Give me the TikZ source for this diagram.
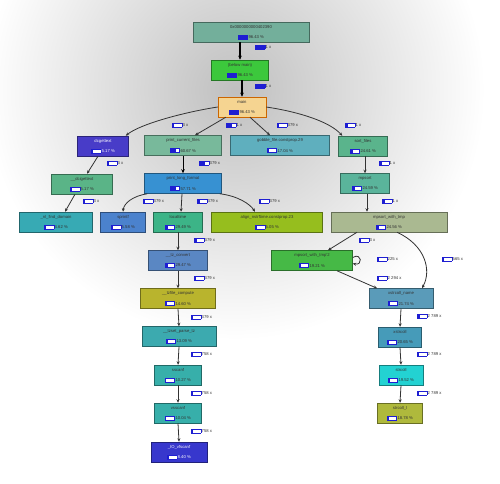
\documentclass[tikz,border=0pt]{standalone}
\usepackage{fontspec}
\setmainfont{Liberation Sans}
\usetikzlibrary{arrows.meta,calc}
\definecolor{barblue}{RGB}{30,30,210}
\definecolor{c0}{RGB}{115,175,155}
\definecolor{c1}{RGB}{60,200,60}
\definecolor{c2}{RGB}{245,212,145}
\definecolor{c3}{RGB}{72,60,200}
\definecolor{c4}{RGB}{120,185,155}
\definecolor{c5}{RGB}{95,175,190}
\definecolor{c6}{RGB}{90,180,140}
\definecolor{c7}{RGB}{90,180,135}
\definecolor{c8}{RGB}{55,145,210}
\definecolor{c9}{RGB}{90,180,155}
\definecolor{c10}{RGB}{55,170,180}
\definecolor{c11}{RGB}{75,130,205}
\definecolor{c12}{RGB}{60,180,135}
\definecolor{c13}{RGB}{150,190,30}
\definecolor{c14}{RGB}{170,185,145}
\definecolor{c15}{RGB}{90,135,195}
\definecolor{c16}{RGB}{70,185,70}
\definecolor{c17}{RGB}{185,180,45}
\definecolor{c18}{RGB}{90,155,185}
\definecolor{c19}{RGB}{60,170,175}
\definecolor{c20}{RGB}{70,155,185}
\definecolor{c21}{RGB}{35,210,210}
\definecolor{c22}{RGB}{175,185,60}
\definecolor{c23}{RGB}{55,175,170}
\definecolor{c24}{RGB}{55,55,205}
\newcommand{\pbar}[1]{{\setlength{\fboxsep}{0pt}\setlength{\fboxrule}{0.4pt}\fcolorbox{barblue}{white}{\textcolor{barblue}{\rule{#1pt}{3.2pt}}\hspace*{\dimexpr 9pt-#1pt\relax}}}}
\newcommand{\fnd}[8][]{\node[fnode=#5, minimum width=#4pt, #1] (#2) at (#3) {#6\\[5.5pt]\pbar{#7}\,#8};}
\newcommand{\elab}[4]{\node[elabel] (#1) at (#2) {\pbar{#3}\,#4};}
\begin{document}
\begin{tikzpicture}[x=1pt,y=-1pt,
  every node/.style={font=\fontsize{4.2}{5}\selectfont},
  fnode/.style={rectangle, fill=#1, draw=#1!60!black, line width=0.5pt, minimum height=20pt, inner sep=1pt, align=center, text=black!80},
  elabel/.style={anchor=west, inner sep=0pt, text=black!80},
  edge/.style={draw=black!80, line width=0.8pt, -{Stealth[length=3.5pt,width=3pt]}},
  bigedge/.style={draw=black, line width=1.4pt, -{Stealth[length=4pt,width=3.5pt]}}]
\useasboundingbox (0,0) rectangle (500,483);
\fill[white] (0,0) rectangle (500,483);
\begin{scope}
\clip (0,0) rectangle (500,483);
\shade[inner color=gray!50, outer color=white] (235,90) circle[radius=250pt];
\end{scope}
% nodes
\fnd{n0}{251,32}{116}{c0}{0x0000000000402390}{9}{96.43 \%}
\fnd{below}{240,70}{57}{c1}{(below main)}{9}{96.43 \%}
\fnd[draw=orange!80!black]{main}{242,107}{48}{c2}{main}{9}{96.43 \%}
\fnd[text=white]{dcg}{103,146}{51}{c3}{dcgettext}{0.5}{5.17 \%}
\fnd{pcf}{183,145.5}{77}{c4}{print\_current\_files}{5.5}{60.67 \%}
\fnd{gob}{280,145.5}{99}{c5}{gobble\_file.constprop.29}{1.5}{17.04 \%}
\fnd{srt}{363,146}{49}{c6}{sort\_files}{2.2}{24.61 \%}
\fnd{dci}{82,184}{61}{c7}{\_\_dcigettext}{0.5}{5.17 \%}
\fnd{plf}{183,183.5}{77}{c8}{print\_long\_format}{5.2}{57.71 \%}
\fnd{mps}{365,183.5}{49}{c9}{mpsort}{2.2}{24.59 \%}
\fnd{nlf}{56,222}{73}{c10}{\_nl\_find\_domain}{0.4}{4.62 \%}
\fnd{spr}{123,222}{45}{c11}{sprintf}{0.5}{5.58 \%}
\fnd{loc}{178,222}{49}{c12}{localtime}{2.6}{29.49 \%}
\fnd{aln}{267,222}{111}{c13}{align\_nstrftime.constprop.23}{0.5}{5.05 \%}
\fnd{mwt}{389,222}{116}{c14}{mpsort\_with\_tmp}{2.2}{24.56 \%}
\fnd{tzc}{178,260.5}{59}{c15}{\_\_tz\_convert}{2.6}{29.47 \%}
\fnd{mw2}{312,260.5}{81}{c16}{mpsort\_with\_tmp'2}{1.7}{19.21 \%}
\fnd{tzf}{178,298.5}{75}{c17}{\_\_tzfile\_compute}{1.3}{14.60 \%}
\fnd{xcn}{401,298.5}{64}{c18}{xstrcoll\_name}{2}{21.74 \%}
\fnd{tzs}{179,336.5}{74}{c19}{\_\_tzset\_parse\_tz}{1.2}{13.09 \%}
\fnd{xco}{400,337}{43}{c20}{xstrcoll}{1.9}{20.65 \%}
\fnd{sco}{401,375}{44}{c21}{strcoll}{1.8}{19.52 \%}
\fnd{scl}{400,413}{45}{c22}{strcoll\_l}{1.7}{18.78 \%}
\fnd{ssc}{178,375}{47}{c23}{sscanf}{0.9}{10.27 \%}
\fnd{vss}{178,413}{47}{c23}{vsscanf}{0.9}{10.04 \%}
\fnd[text=white]{iov}{179,452}{56}{c24}{\_IO\_vfscanf}{0.8}{8.40 \%}
% edge labels
\elab{l01}{255,47}{9}{1 x}
\elab{l12}{255,86}{9}{1 x}
\elab{lmd}{172,125}{1}{3 x}
\elab{lmp}{226,125}{5.5}{1 x}
\elab{lmg}{277,125}{1.5}{379 x}
\elab{lms}{345,125}{2.2}{1 x}
\elab{ldd}{107,163}{0.5}{3 x}
\elab{lpp}{199,163}{5}{379 x}
\elab{lsm}{379,163}{2.2}{1 x}
\elab{ldn}{83,201}{0.4}{3 x}
\elab{lps}{143,201}{0.5}{379 x}
\elab{lpl}{197,201}{2.5}{379 x}
\elab{lpa}{259,201}{0.5}{379 x}
\elab{lmm}{382,201}{2.2}{1 x}
\elab{llt}{194,240}{2.5}{379 x}
\elab{ltt}{194,278}{1.3}{379 x}
\elab{lts}{191,317}{1.2}{379 x}
\elab{lss}{191,354}{0.9}{758 x}
\elab{lsv}{191,393}{0.9}{758 x}
\elab{lvi}{191,431}{0.8}{758 x}
\elab{lm2}{359,240}{1.7}{3 x}
\elab{llp}{377,259}{1.5}{225 x}
\elab{lmx}{442,259}{0.5}{565 x}
\elab{l2x}{377,278}{1.5}{2 294 x}
\elab{lxx}{417,316}{1.9}{2 789 x}
\elab{lxs}{417,354}{1.8}{2 789 x}
\elab{lsl}{417,393}{1.7}{2 789 x}
% edges
\draw[bigedge] (below.north |- n0.south) -- (below.north);
\draw[bigedge] (main.north |- below.south) -- (main.north);
\draw[edge] (main.west) .. controls (185,112) and (140,124) .. ($(dcg.north east)+(-3,0)$);
\draw[edge] ($(main.south west)+(8,0)$) -- ($(pcf.north)+(12,0)$);
\draw[edge] ($(main.south)+(8,0)$) -- ($(gob.north)+(-10,0)$);
\draw[edge] (main.east) .. controls (300,112) and (330,122) .. ($(srt.north west)+(4,0)$);
\draw[edge] ($(dcg.south)+(-5,0)$) -- ($(dci.north)+(5,0)$);
\draw[bigedge, line width=1pt] (pcf.south) -- (plf.north);
\draw[edge] ($(srt.south)+(2,0)$) -- (mps.north);
\draw[edge] ($(dci.south)+(-7,0)$) -- ($(nlf.north)+(9,0)$);
\draw[edge] ($(plf.south west)+(3,0)$) .. controls (133,196) and (124,203) .. (spr.north);
\draw[edge] ($(plf.south)+(-1,0)$) -- ($(loc.north)+(3,0)$);
\draw[edge] ($(plf.south east)+(-2,0)$) .. controls (238,196) and (250,204) .. ($(aln.north)+(-12,0)$);
\draw[edge] ($(mps.south)+(2,0)$) -- ($(mwt.north)+(-22,0)$);
\draw[edge] (loc.south) -- (tzc.north);
\draw[edge] (tzc.south) -- (tzf.north);
\draw[edge] (tzf.south) -- (tzs.north);
\draw[edge] (tzs.south) -- (ssc.north);
\draw[edge] (ssc.south) -- (vss.north);
\draw[edge] (vss.south) -- (iov.north);
\draw[edge] ($(mwt.south)+(-32,0)$) -- ($(mw2.north)+(16,0)$);
\draw[edge] ($(mwt.south)+(8,0)$) .. controls (425,245) and (432,270) .. ($(xcn.north)+(21,0)$);
\draw[edge] ($(mw2.south)+(25,0)$) -- ($(xcn.north)+(-24,0)$);
\draw[edge] ($(mw2.east)+(0,-3)$) .. controls (362,252) and (363,266) .. ($(mw2.east)+(0,3)$);
\draw[edge] (xcn.south) -- (xco.north);
\draw[edge] (xco.south) -- (sco.north);
\draw[edge] (sco.south) -- (scl.north);
\end{tikzpicture}
\end{document}
